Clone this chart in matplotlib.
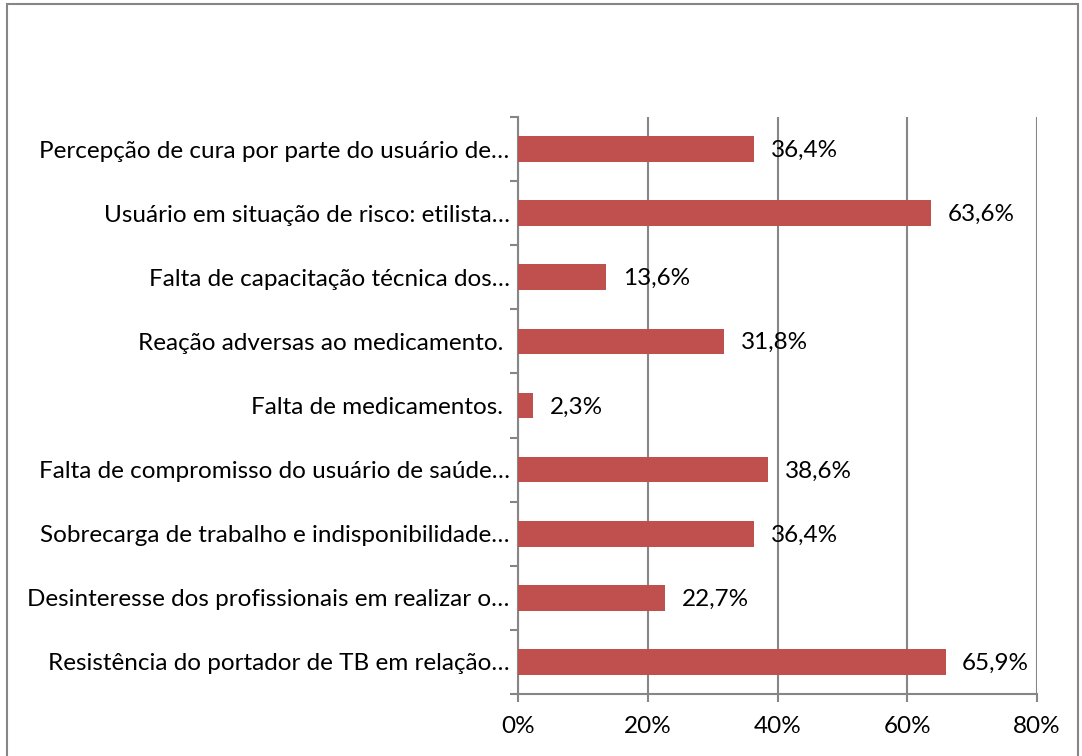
import matplotlib
matplotlib.use("Agg")
import matplotlib.pyplot as plt
from matplotlib.patches import Rectangle

categorias = [
    "Percepção de cura por parte do usuário de…",
    "Usuário em situação de risco: etilista…",
    "Falta de capacitação técnica dos…",
    "Reação adversas ao medicamento. ",
    "Falta de medicamentos. ",
    "Falta de compromisso do usuário de saúde…",
    "Sobrecarga de trabalho e indisponibilidade…",
    "Desinteresse dos profissionais em realizar o…",
    "Resistência do portador de TB em relação…",
]
valores = [36.4, 63.6, 13.6, 31.8, 2.3, 38.6, 36.4, 22.7, 65.9]
rotulos = ["36,4%", "63,6%", "13,6%", "31,8%", "2,3%", "38,6%", "36,4%", "22,7%", "65,9%"]
xticks = [0, 20, 40, 60, 80]

plt.rcParams['font.family'] = ['Lato', 'DejaVu Sans']
cinza = '#868686'
fs = 17.5

fig = plt.figure(figsize=(10.82, 7.56), dpi=100)
fig.patches.append(Rectangle((7 / 1082, -0.05), 1071 / 1082, 1.05 - 4 / 756,
                             transform=fig.transFigure, fill=False,
                             edgecolor=cinza, linewidth=1.5))
ax = fig.add_axes([518 / 1082, 62 / 756, 519 / 1082, 577 / 756])

pos = list(range(len(categorias)))[::-1]
ax.barh(pos, valores, height=0.4, color='#C0504D', zorder=3)
for p, v, r in zip(pos, valores, rotulos):
    ax.annotate(r, (v, p), xytext=(12, -1), textcoords='offset points',
                va='center', ha='left', fontsize=fs)

ax.set_xlim(0, 80)
ax.set_ylim(-0.5, len(categorias) - 0.5)
ax.set_xticks(xticks)
ax.set_xticklabels([f"{t}%" for t in xticks], fontsize=fs)
ax.set_yticks(pos)
ax.set_yticklabels(categorias, fontsize=fs)
ax.set_yticks([i - 0.5 for i in range(len(categorias) + 1)], minor=True)
ax.tick_params(axis='y', which='major', length=0, pad=6)
ax.tick_params(axis='y', which='minor', length=6, color=cinza, width=1.5)
ax.tick_params(axis='x', length=6, color=cinza, width=1.5, pad=10)
ax.grid(axis='x', color=cinza, linewidth=1.5, zorder=0)
for s in ['top', 'right']:
    ax.spines[s].set_visible(False)
for s in ['left', 'bottom']:
    ax.spines[s].set_color(cinza)
    ax.spines[s].set_linewidth(1.5)

fig.savefig('out.png', dpi=100)
